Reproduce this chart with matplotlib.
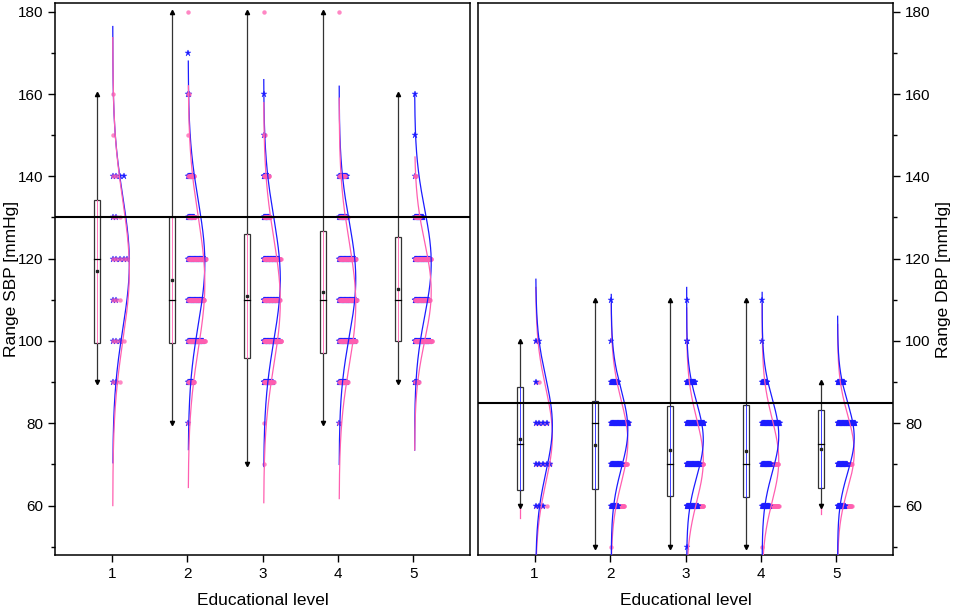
import numpy as np
import matplotlib
matplotlib.use("Agg")
import matplotlib.pyplot as plt
from matplotlib.ticker import MultipleLocator

plt.rcParams['font.family'] = ['Liberation Sans', 'DejaVu Sans']

levels = [1, 2, 3, 4, 5]

# ---- SBP (left panel) ----
sbp_vals = [70, 80, 90, 100, 110, 120, 130, 140, 150, 160, 170, 180]
sbp_pink = [
    [0, 0, 3, 4, 3, 5, 3, 2, 1, 1, 0, 0],
    [0, 1, 14, 38, 36, 40, 16, 14, 1, 2, 0, 1],
    [1, 1, 24, 42, 38, 40, 16, 14, 3, 0, 0, 1],
    [0, 1, 20, 38, 40, 38, 20, 14, 0, 0, 0, 1],
    [0, 0, 10, 40, 34, 38, 12, 3, 0, 0, 0, 0],
]
sbp_blue = [
    [0, 0, 2, 3, 2, 5, 2, 4, 0, 0, 0, 0],
    [0, 1, 12, 34, 34, 38, 14, 12, 0, 2, 1, 0],
    [0, 0, 22, 38, 36, 36, 14, 12, 1, 1, 0, 0],
    [0, 1, 18, 36, 38, 36, 18, 18, 0, 0, 0, 0],
    [0, 0, 8, 36, 32, 34, 20, 1, 1, 1, 0, 0],
]
sbp_q1 = [99.6, 99.5, 95.9, 97.1, 100.0]
sbp_med = [120, 110, 110, 110, 110]
sbp_q3 = [134.3, 130, 126.1, 126.8, 125.2]
sbp_mean = [116.9, 114.7, 111, 111.9, 112.7]
sbp_wlo = [90, 80, 70, 80, 90]
sbp_whi = [160, 180, 180, 180, 160]
# normal curves: mean, sd, range
sbp_pink_mu = [117, 114, 109.5, 109, 112]
sbp_pink_sd = [17, 16, 15.5, 15, 12]
sbp_pink_lo = [60, 64.4, 60.7, 61.7, 73.5]
sbp_pink_hi = [173.7, 162, 157.9, 159, 144.7]
sbp_blue_mu = [119, 119, 115, 115, 119]
sbp_blue_sd = [16, 15, 15, 14, 13]
sbp_blue_lo = [70.4, 73.6, 69.5, 70, 73.5]
sbp_blue_hi = [176.4, 168, 163.5, 161.9, 160]
sbp_ref = 130

# ---- DBP (right panel) ----
dbp_vals = [50, 60, 70, 80, 90, 100, 110]
dbp_pink = [
    [0, 4, 5, 4, 2, 1, 0],
    [1, 30, 36, 38, 12, 0, 0],
    [0, 38, 38, 36, 16, 0, 0],
    [1, 38, 36, 36, 10, 0, 0],
    [0, 32, 32, 36, 10, 0, 0],
]
dbp_blue = [
    [0, 3, 5, 4, 1, 2, 0],
    [0, 16, 24, 40, 16, 1, 1],
    [1, 26, 30, 40, 20, 2, 1],
    [0, 18, 20, 40, 12, 1, 1],
    [0, 18, 22, 40, 16, 0, 0],
]
dbp_q1 = [63.7, 64.1, 62.3, 62.0, 64.3]
dbp_med = [75, 80, 70, 70, 75]
dbp_q3 = [88.9, 85.3, 84.3, 84.5, 83.3]
dbp_mean = [76.3, 74.8, 73.4, 73.2, 73.8]
dbp_wlo = [60, 50, 50, 50, 60]
dbp_whi = [100, 110, 110, 110, 90]
dbp_tail = [57, None, None, None, 58]
dbp_pink_mu = [77, 75.5, 71, 71, 73]
dbp_pink_sd = [11.5, 10, 10, 10, 9]
dbp_pink_lo = [40, 40, 40, 40, 42]
dbp_pink_hi = [113, 109, 108, 109, 104]
dbp_blue_mu = [79.5, 78.5, 76, 77, 76.5]
dbp_blue_sd = [11.5, 9.5, 9, 9, 8.5]
dbp_blue_lo = [44, 44, 40, 42, 46]
dbp_blue_hi = [115, 111.3, 113, 111.8, 106]
dbp_ref = 85

PINK = '#ff5fb0'
BLUE = '#1c1cff'


def draw_panel(ax, vals, pink, blue, q1, med, q3, mean, wlo, whi,
               pmu, psd, plo, phi, bmu, bsd, blo, bhi, ref, inner, tail=None):
    blue_front = inner == BLUE
    for i, x in enumerate(levels):
        # box + whiskers, offset to the left
        bx = x - 0.2
        bw = 0.04
        ax.plot([bx, bx], [wlo[i], q1[i]], color='#333333', lw=0.9, zorder=3)
        ax.plot([bx, bx], [q3[i], whi[i]], color='#333333', lw=0.9, zorder=3)
        ax.plot([bx], [whi[i]], marker='^', ms=3, color='black', zorder=4)
        ax.plot([bx], [wlo[i]], marker='v', ms=3, color='black', zorder=4)
        ax.add_patch(plt.Rectangle((bx - bw, q1[i]), 2 * bw, q3[i] - q1[i],
                                   fc='white', ec='#333333', lw=0.9, zorder=3))
        ax.plot([bx, bx], [q1[i], q3[i]], color=inner, lw=0.6, zorder=4)
        if tail is not None and tail[i] is not None:
            ax.plot([bx, bx], [tail[i], wlo[i]], color=PINK, lw=0.9, zorder=2)
        ax.plot([bx - bw, bx + bw], [med[i], med[i]], color='black', lw=0.9, zorder=4)
        ax.plot([bx], [mean[i]], marker='s', ms=1.8, color='#222222', zorder=5)

        # stacked points
        nmax = max(max(pink[i]), max(blue[i]))
        step = 0.24 / nmax
        for counts, mk, col, ms, zo in ((blue[i], '*', BLUE, 4.5, 7 if blue_front else 5),
                                        (pink[i], 'o', PINK, 3.2, 6)):
            xs, ys = [], []
            for v, n in zip(vals, counts):
                for k in range(n):
                    xs.append(x + 0.015 + k * step)
                    ys.append(v)
            if mk == 'o':
                ax.plot(xs, ys, ls='none', marker=mk, ms=ms, color=col, mec='none',
                        alpha=0.75, zorder=zo)
            else:
                ax.plot(xs, ys, ls='none', marker=mk, ms=ms, color=col, mec=col,
                        mew=0.3, zorder=zo)

        # fitted normal curves drawn sideways
        for mu, sd, lo, hi, col, zo in ((bmu[i], bsd[i], blo[i], bhi[i], BLUE, 9 if blue_front else 8),
                                        (pmu[i], psd[i], plo[i], phi[i], PINK, 8)):
            yy = np.linspace(lo, hi, 300)
            dens = np.exp(-0.5 * ((yy - mu) / sd) ** 2)
            ax.plot(x + 0.015 + 0.22 * dens, yy, color=col, lw=0.9, zorder=zo)

    ax.axhline(ref, color='black', lw=1.5, zorder=10)
    ax.set_xlim(0.25, 5.75)
    ax.set_ylim(48, 182)
    ax.set_xticks(levels)
    ax.yaxis.set_major_locator(MultipleLocator(20))
    ax.yaxis.set_minor_locator(MultipleLocator(10))
    ax.tick_params(axis='both', which='major', direction='out', length=5, width=1,
                   labelsize=11)
    ax.tick_params(axis='y', which='minor', direction='out', length=3, width=1)
    for sp in ax.spines.values():
        sp.set_linewidth(1.1)
    ax.set_xlabel('Educational level', fontsize=12.5, labelpad=9)


fig = plt.figure(figsize=(9.57, 6.09), dpi=100)
ax1 = fig.add_axes([0.0575, 0.0887, 0.4337, 0.9056])
ax2 = fig.add_axes([0.4995, 0.0887, 0.4337, 0.9056])

draw_panel(ax1, sbp_vals, sbp_pink, sbp_blue, sbp_q1, sbp_med, sbp_q3, sbp_mean,
           sbp_wlo, sbp_whi, sbp_pink_mu, sbp_pink_sd, sbp_pink_lo, sbp_pink_hi,
           sbp_blue_mu, sbp_blue_sd, sbp_blue_lo, sbp_blue_hi, sbp_ref, PINK)
ax1.set_ylabel('Range SBP [mmHg]', fontsize=12.5)
ax1.yaxis.set_label_coords(-0.088, 0.5)

draw_panel(ax2, dbp_vals, dbp_pink, dbp_blue, dbp_q1, dbp_med, dbp_q3, dbp_mean,
           dbp_wlo, dbp_whi, dbp_pink_mu, dbp_pink_sd, dbp_pink_lo, dbp_pink_hi,
           dbp_blue_mu, dbp_blue_sd, dbp_blue_lo, dbp_blue_hi, dbp_ref, BLUE, dbp_tail)
ax2.yaxis.tick_right()
ax2.yaxis.set_label_position('right')
ax2.set_ylabel('Range DBP [mmHg]', fontsize=12.5)

fig.savefig('out.png', dpi=100)
